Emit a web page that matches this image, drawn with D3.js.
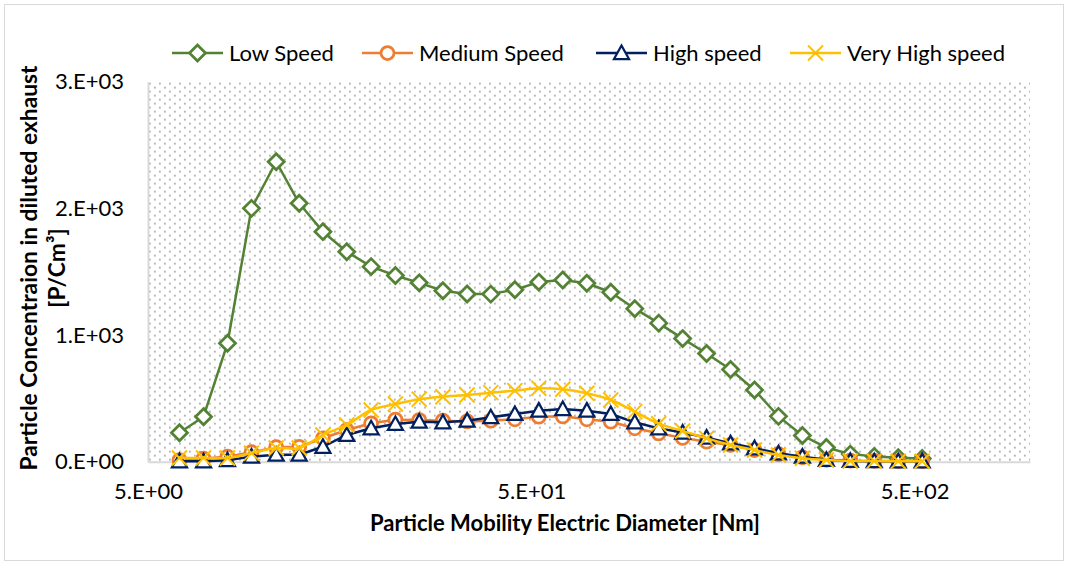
<!DOCTYPE html>
<html>
<head>
<meta charset="utf-8">
<script src="https://cdn.jsdelivr.net/npm/d3@7"></script>
<style>
  html, body { margin: 0; padding: 0; background: #fff; }
  svg { display: block; font-family: Lato, "Open Sans", sans-serif; }
</style>
</head>
<body>
<svg id="chart" width="1068" height="565"></svg>
<script>
// Particle mobility diameter bins [nm]
const diameters = [6.04, 6.98, 8.06, 9.31, 10.8, 12.4, 14.3, 16.5, 19.1, 22.1, 25.5, 29.4,
  34.0, 39.2, 45.3, 52.3, 60.4, 69.8, 80.6, 93.1, 107.5, 124.1, 143.3, 165.5,
  191.1, 220.7, 254.8, 294.3, 339.8, 392.4, 453.2, 523.3];

// Particle concentration [P/cm3] per engine speed
const lowSpeed = [229, 355, 935, 2000, 2368, 2040, 1816, 1658, 1540, 1470, 1412, 1350,
  1324, 1323, 1358, 1418, 1435, 1409, 1338, 1208, 1094, 972, 854, 728,
  566, 358, 207, 112, 60, 42, 32, 25];
const mediumSpeed = [13, 25, 40, 75, 115, 118, 185, 250, 303, 332, 329, 324,
  318, 324, 335, 355, 358, 335, 316, 264, 224, 188, 158, 132,
  92, 60, 35, 15, 8, 6, 5, 5];
const highSpeed = [3, 3, 12, 40, 55, 55, 118, 211, 264, 298, 316, 311,
  324, 351, 377, 403, 416, 403, 377, 311, 263, 230, 190, 145,
  106, 66, 40, 15, 6, 4, 3, 3];
const veryHighSpeed = [29, 29, 29, 68, 108, 108, 211, 290, 408, 455, 493, 513,
  527, 545, 561, 580, 572, 540, 487, 395, 300, 243, 185, 132,
  92, 53, 27, 13, 6, 5, 4, 4];

const seriesNames = ["Low Speed", "Medium Speed", "High speed", "Very High speed"];

const xTickValues = [5, 50, 500];
const xTickLabels = ["5.E+00", "5.E+01", "5.E+02"];
const yTickValues = [0, 1000, 2000, 3000];
const yTickLabels = ["0.E+00", "1.E+03", "2.E+03", "3.E+03"];

const svg = d3.select("#chart");
const W = 1068, H = 565;
const plot = { left: 148, right: 1030, top: 81.7, bottom: 461.7 };

// outer chart border
svg.append("rect")
  .attr("x", 4.5).attr("y", 4.5).attr("width", W - 9).attr("height", H - 9)
  .attr("fill", "#fff").attr("stroke", "#d9d9d9").attr("stroke-width", 1);

const x = d3.scaleLog().domain([5, 1000]).range([plot.left, plot.right]);
const y = d3.scaleLinear().domain([0, 3000]).range([plot.bottom, plot.top]);

// dotted plot-area fill
const defs = svg.append("defs");
const pat = defs.append("pattern")
  .attr("id", "dots").attr("patternUnits", "userSpaceOnUse")
  .attr("x", plot.left).attr("y", plot.top)
  .attr("width", 10).attr("height", 8);
pat.append("rect").attr("width", 10).attr("height", 8).attr("fill", "#fff");
pat.append("rect").attr("x", 1).attr("y", 1).attr("width", 1.8).attr("height", 1.8).attr("fill", "#b0b0b0");
pat.append("rect").attr("x", 6).attr("y", 5).attr("width", 1.8).attr("height", 1.8).attr("fill", "#b0b0b0");

svg.append("rect")
  .attr("x", plot.left).attr("y", plot.top)
  .attr("width", plot.right - plot.left).attr("height", plot.bottom - plot.top)
  .attr("fill", "url(#dots)");

// axes
const xAxis = d3.axisBottom(x).tickValues(xTickValues)
  .tickFormat((d, i) => xTickLabels[i]).tickSize(0).tickPadding(22);
const gx = svg.append("g").attr("transform", `translate(0,${plot.bottom})`).call(xAxis);
gx.select(".domain").attr("stroke", "#d9d9d9").attr("stroke-width", 2);
gx.selectAll("text").attr("font-size", 22).attr("fill", "#000").attr("font-family", "Lato");

const yAxis = d3.axisLeft(y).tickValues(yTickValues)
  .tickFormat((d, i) => yTickLabels[i]).tickSize(0).tickPadding(24);
const gy = svg.append("g").attr("transform", `translate(${plot.left},0)`).call(yAxis);
gy.select(".domain").attr("stroke", "#d9d9d9").attr("stroke-width", 2);
gy.selectAll("text").attr("font-size", 22).attr("fill", "#000").attr("font-family", "Lato");

// axis titles
svg.append("text")
  .attr("x", 565).attr("y", 531).attr("text-anchor", "middle")
  .attr("font-size", 22).attr("font-weight", "bold").attr("fill", "#000")
  .text("Particle Mobility Electric Diameter [Nm]");

const yt = svg.append("text")
  .attr("transform", "translate(0,268) rotate(-90)")
  .attr("text-anchor", "middle").attr("font-size", 22.8).attr("font-weight", "bold").attr("fill", "#000");
yt.append("tspan").attr("x", 0).attr("y", 37).text("Particle Concentraion in diluted exhaust");
yt.append("tspan").attr("x", 0).attr("y", 65).text("[P/Cm\u00B3]");

// series definitions
const series = [
  { name: seriesNames[0], values: lowSpeed, color: "#548235", marker: "diamond", curve: d3.curveLinear },
  { name: seriesNames[1], values: mediumSpeed, color: "#ED7D31", marker: "circle", curve: d3.curveLinear },
  { name: seriesNames[2], values: highSpeed, color: "#002060", marker: "triangle", curve: d3.curveLinear },
  { name: seriesNames[3], values: veryHighSpeed, color: "#FFC000", marker: "cross", curve: d3.curveCatmullRom.alpha(0.5) }
];

function drawMarker(g, type, color) {
  if (type === "diamond") {
    g.append("path").attr("d", "M0,-8L8,0L0,8L-8,0Z")
      .attr("fill", "#fff").attr("stroke", color).attr("stroke-width", 2.75);
  } else if (type === "circle") {
    g.append("circle").attr("r", 6.5)
      .attr("fill", "#fff").attr("stroke", color).attr("stroke-width", 2.75);
  } else if (type === "triangle") {
    g.append("path").attr("d", "M0,-7.5L7.5,6L-7.5,6Z")
      .attr("fill", "#fff").attr("stroke", color).attr("stroke-width", 2.25)
      .attr("stroke-linejoin", "miter");
  } else {
    g.append("path").attr("d", "M-7.5,-7.5L7.5,7.5M-7.5,7.5L7.5,-7.5")
      .attr("fill", "none").attr("stroke", color).attr("stroke-width", 2);
  }
}

const plotG = svg.append("g");
series.forEach(s => {
  const pts = diameters.map((d, i) => [d, s.values[i]]);
  const line = d3.line().x(p => x(p[0])).y(p => y(p[1])).curve(s.curve);
  const g = plotG.append("g");
  g.append("path").datum(pts).attr("d", line)
    .attr("fill", "none").attr("stroke", s.color).attr("stroke-width", 2.5)
    .attr("stroke-linejoin", "round");
  pts.forEach(p => {
    const m = g.append("g").attr("transform", `translate(${x(p[0])},${y(p[1])})`);
    drawMarker(m, s.marker, s.color);
  });
});

// legend
const legendX = [172, 362, 596, 790];
const legend = svg.append("g");
series.forEach((s, i) => {
  const lg = legend.append("g").attr("transform", `translate(${legendX[i]},53)`);
  lg.append("line").attr("x1", 0).attr("x2", 51).attr("y1", 0).attr("y2", 0)
    .attr("stroke", s.color).attr("stroke-width", 2.5);
  const m = lg.append("g").attr("transform", "translate(25.5,0)");
  drawMarker(m, s.marker, s.color);
  lg.append("text").attr("x", 57).attr("y", 0).attr("dy", "0.35em")
    .attr("font-size", 22).attr("fill", "#000").text(s.name);
});
</script>
</body>
</html>
